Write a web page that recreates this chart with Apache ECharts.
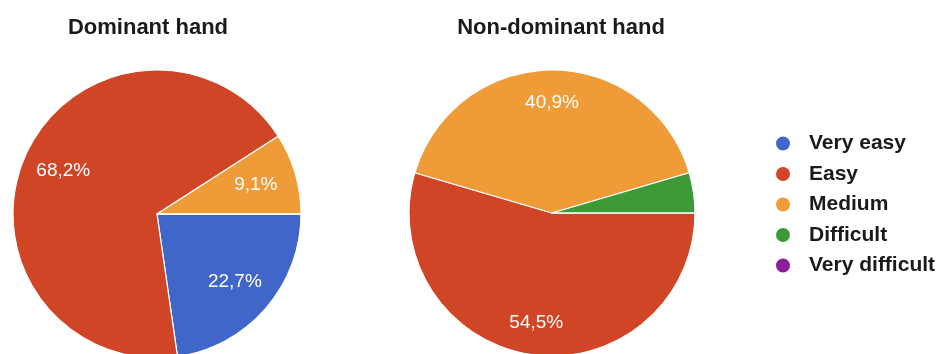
<!DOCTYPE html>
<html>
<head>
<meta charset="utf-8">
<script src="https://cdn.jsdelivr.net/npm/echarts@6/dist/echarts.min.js"></script>
<style>
html,body{margin:0;padding:0;background:#fff;}
#chart{width:942px;height:354px;}
</style>
</head>
<body>
<div id="chart"></div>
<script>
// ---- data ----
var categories = ['Very easy', 'Easy', 'Medium', 'Difficult', 'Very difficult'];
var dominantValues = [5, 15, 2, 0, 0];
var nonDominantValues = [0, 12, 9, 1, 0];
var chartTitles = ['Dominant hand', 'Non-dominant hand'];
var colors = ['#3f66c8', '#cf4526', '#ef9b37', '#3c9a37', '#8e1c9f'];

var FONT = '"Liberation Sans", Arial, sans-serif';
var LABEL_MIN_PCT = 5; // small slices get no label

function buildData(values) {
  return categories.map(function (c, i) {
    return { name: c, value: values[i], itemStyle: { color: colors[i] } };
  });
}
function pctFormatter(values) {
  var total = values.reduce(function (a, b) { return a + b; }, 0);
  return function (p) {
    var pct = p.value / total * 100;
    if (!p.value || pct < LABEL_MIN_PCT) return '';
    return pct.toFixed(1).replace('.', ',') + '%';
  };
}

function pieSeries(values, center, r, labelInner) {
  return [
    {
      type: 'pie',
      center: center,
      radius: [0, r],
      startAngle: 0,
      clockwise: true,
      silent: true,
      avoidLabelOverlap: false,
      itemStyle: { borderColor: '#ffffff', borderWidth: 1.2 },
      label: { show: false },
      labelLine: { show: false },
      emphasis: { disabled: true },
      data: buildData(values)
    },
    {
      type: 'pie',
      center: center,
      radius: [labelInner, r],
      startAngle: 0,
      clockwise: true,
      silent: true,
      avoidLabelOverlap: false,
      itemStyle: { color: 'rgba(0,0,0,0)', borderWidth: 0 },
      label: {
        show: true,
        position: 'inside',
        color: '#ffffff',
        fontFamily: FONT,
        fontSize: 19,
        formatter: pctFormatter(values)
      },
      labelLine: { show: false },
      emphasis: { disabled: true },
      legendHoverLink: false,
      data: categories.map(function (c, i) {
        return { name: c + ' ', value: values[i] };
      })
    }
  ];
}

var chart = echarts.init(document.getElementById('chart'), null, { renderer: 'canvas' });
chart.setOption({
  animation: false,
  backgroundColor: '#ffffff',
  title: [
    { text: chartTitles[0], left: 148, top: 17, textAlign: 'center', padding: 0,
      textStyle: { fontFamily: FONT, fontSize: 22, fontWeight: 'bold', color: '#1a1a1a' } },
    { text: chartTitles[1], left: 561, top: 17, textAlign: 'center', padding: 0,
      textStyle: { fontFamily: FONT, fontSize: 22, fontWeight: 'bold', color: '#1a1a1a' } }
  ],
  legend: {
    orient: 'vertical',
    left: 774,
    top: 133,
    padding: 0,
    icon: 'circle',
    itemWidth: 42,
    itemHeight: 16,
    itemGap: 9.5,
    selectedMode: false,
    data: categories,
    textStyle: { fontFamily: FONT, fontSize: 21, fontWeight: 'bold', color: '#1a1a1a' }
  },
  series: [].concat(
    pieSeries(dominantValues, [157, 214], 144, 56),
    pieSeries(nonDominantValues, [552, 213], 143, 72)
  )
});
</script>
</body>
</html>
